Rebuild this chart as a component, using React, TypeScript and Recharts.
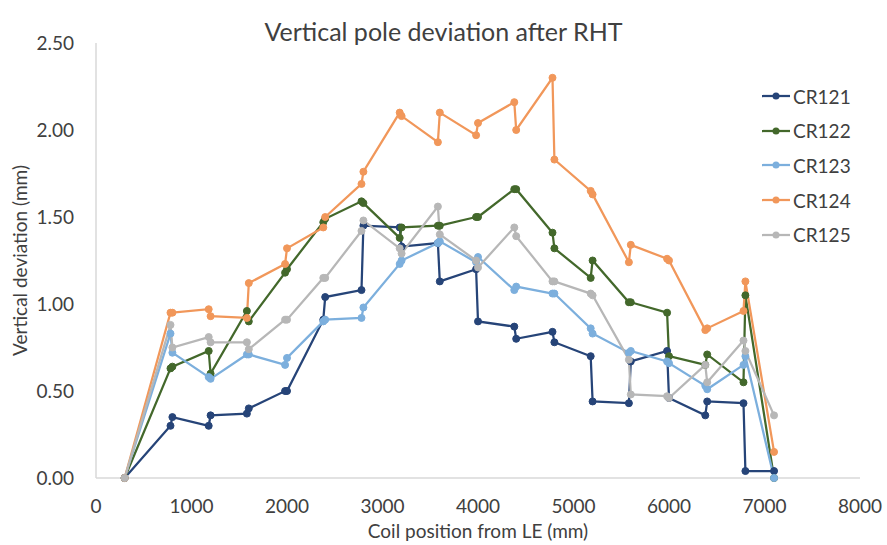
import React from "react";
import { LineChart, Line, XAxis, YAxis, Legend, Label } from "recharts";

// coil positions from LE (mm)
const POSITIONS = [
  300, 780, 800, 1180, 1200, 1580, 1600, 1980, 2000, 2380, 2400, 2780, 2800, 3180, 3200, 3580, 3600,
  3980, 4000, 4380, 4400, 4780, 4800, 5180, 5200, 5580, 5600, 5980, 6000, 6380, 6400, 6780, 6800, 7100,
];

const CR121 = [
  0, 0.3, 0.35, 0.3, 0.36, 0.37, 0.4, 0.5, 0.5, 0.91, 1.04, 1.08, 1.45, 1.44, 1.33, 1.35, 1.13,
  1.2, 0.9, 0.87, 0.8, 0.84, 0.78, 0.7, 0.44, 0.43, 0.67, 0.73, 0.46, 0.36, 0.44, 0.43, 0.04, 0.04,
];
const CR122 = [
  0, 0.63, 0.64, 0.73, 0.6, 0.96, 0.9, 1.18, 1.2, 1.47, 1.49, 1.59, 1.58, 1.38, 1.44, 1.45, 1.45,
  1.5, 1.5, 1.66, 1.66, 1.41, 1.32, 1.15, 1.25, 1.01, 1.01, 0.95, 0.7, 0.65, 0.71, 0.55, 1.05, 0,
];
const CR123 = [
  0, 0.83, 0.72, 0.58, 0.57, 0.71, 0.71, 0.65, 0.69, 0.9, 0.91, 0.92, 0.98, 1.23, 1.25, 1.35, 1.36,
  1.24, 1.27, 1.08, 1.1, 1.06, 1.06, 0.86, 0.83, 0.72, 0.73, 0.67, 0.66, 0.53, 0.51, 0.65, 0.7, 0,
];
const CR124 = [
  0, 0.95, 0.95, 0.97, 0.93, 0.92, 1.12, 1.23, 1.32, 1.44, 1.5, 1.69, 1.76, 2.1, 2.08, 1.93, 2.1,
  1.97, 2.04, 2.16, 2.0, 2.3, 1.83, 1.65, 1.63, 1.24, 1.34, 1.26, 1.25, 0.85, 0.86, 0.96, 1.13, 0.15,
];
const CR125 = [
  0, 0.88, 0.75, 0.81, 0.78, 0.78, 0.74, 0.91, 0.91, 1.15, 1.15, 1.42, 1.48, 1.32, 1.29, 1.56, 1.4,
  1.25, 1.21, 1.44, 1.39, 1.13, 1.13, 1.06, 1.05, 0.68, 0.48, 0.47, 0.46, 0.65, 0.55, 0.79, 0.73, 0.36,
];

const X_TICKS = [0, 1000, 2000, 3000, 4000, 5000, 6000, 7000, 8000];
const Y_TICKS = [0, 0.5, 1, 1.5, 2, 2.5];

const SERIES = [
  { name: "CR121", values: CR121, color: "#264478" },
  { name: "CR122", values: CR122, color: "#43682B" },
  { name: "CR123", values: CR123, color: "#7CAFDD" },
  { name: "CR124", values: CR124, color: "#F1975A" },
  { name: "CR125", values: CR125, color: "#B7B7B7" },
];

const data = POSITIONS.map((x, i) => {
  const row: Record<string, number> = { x };
  SERIES.forEach((s) => {
    row[s.name] = s.values[i];
  });
  return row;
});

const TEXT = "#404040";
const FONT = "Lato, 'Open Sans', sans-serif";

const renderLegend = (props: any) => {
  const { payload = [] } = props;
  return (
    <div>
      {payload.map((entry: any) => (
        <div key={entry.value} style={{ display: "flex", alignItems: "center", height: 34.6 }}>
          <svg width={31} height={10}>
            <line x1={0} y1={5} x2={28} y2={5} stroke={entry.color} strokeWidth={2.25} />
            <circle cx={14} cy={5} r={3.5} fill={entry.color} />
          </svg>
          <span style={{ fontFamily: FONT, fontSize: 19, color: TEXT }}>{entry.value}</span>
        </div>
      ))}
    </div>
  );
};

export default function App() {
  return (
    <div style={{ position: "absolute", left: 0, top: 0, width: 887, height: 545, background: "#fff" }}>
      <div
        style={{
          position: "absolute",
          top: 16,
          left: 0,
          width: 887,
          textAlign: "center",
          fontFamily: FONT,
          fontSize: 25,
          lineHeight: "30px",
          color: TEXT,
        }}
      >
        Vertical pole deviation after RHT
      </div>
      <LineChart width={887} height={545} data={data} margin={{ top: 43, right: 27, bottom: 0, left: 0 }}>
        <XAxis
          dataKey="x"
          type="number"
          domain={[0, 8000]}
          ticks={X_TICKS}
          height={67}
          tickLine={false}
          tickSize={0}
          tickMargin={22}
          axisLine={{ stroke: "#D9D9D9", strokeWidth: 1.5 }}
          tick={{ fill: TEXT, fontSize: 19, fontFamily: FONT }}
        >
          <Label
            value="Coil position from LE (mm)"
            position="insideBottom"
            offset={7}
            style={{ fill: TEXT, fontSize: 19, fontFamily: FONT }}
          />
        </XAxis>
        <YAxis
          type="number"
          domain={[0, 2.5]}
          ticks={Y_TICKS}
          width={96}
          tickLine={false}
          tickSize={0}
          tickMargin={22}
          tickFormatter={(v: number) => v.toFixed(2)}
          axisLine={{ stroke: "#D9D9D9", strokeWidth: 1.5 }}
          tick={{ fill: TEXT, fontSize: 19, fontFamily: FONT }}
        >
          <Label
            value="Vertical deviation (mm)"
            angle={-90}
            position="insideLeft"
            offset={20}
            style={{ fill: TEXT, fontSize: 19, fontFamily: FONT, textAnchor: "middle" }}
          />
        </YAxis>
        <Legend
          layout="vertical"
          align="center"
          verticalAlign="middle"
          content={renderLegend}
          wrapperStyle={{ left: 762, top: 79, width: 110 }}
        />
        {SERIES.map((s) => (
          <Line
            key={s.name}
            dataKey={s.name}
            name={s.name}
            stroke={s.color}
            strokeWidth={2.25}
            dot={{ r: 3.5, fill: s.color, stroke: s.color, strokeWidth: 1 }}
            activeDot={false}
            isAnimationActive={false}
          />
        ))}
      </LineChart>
    </div>
  );
}
